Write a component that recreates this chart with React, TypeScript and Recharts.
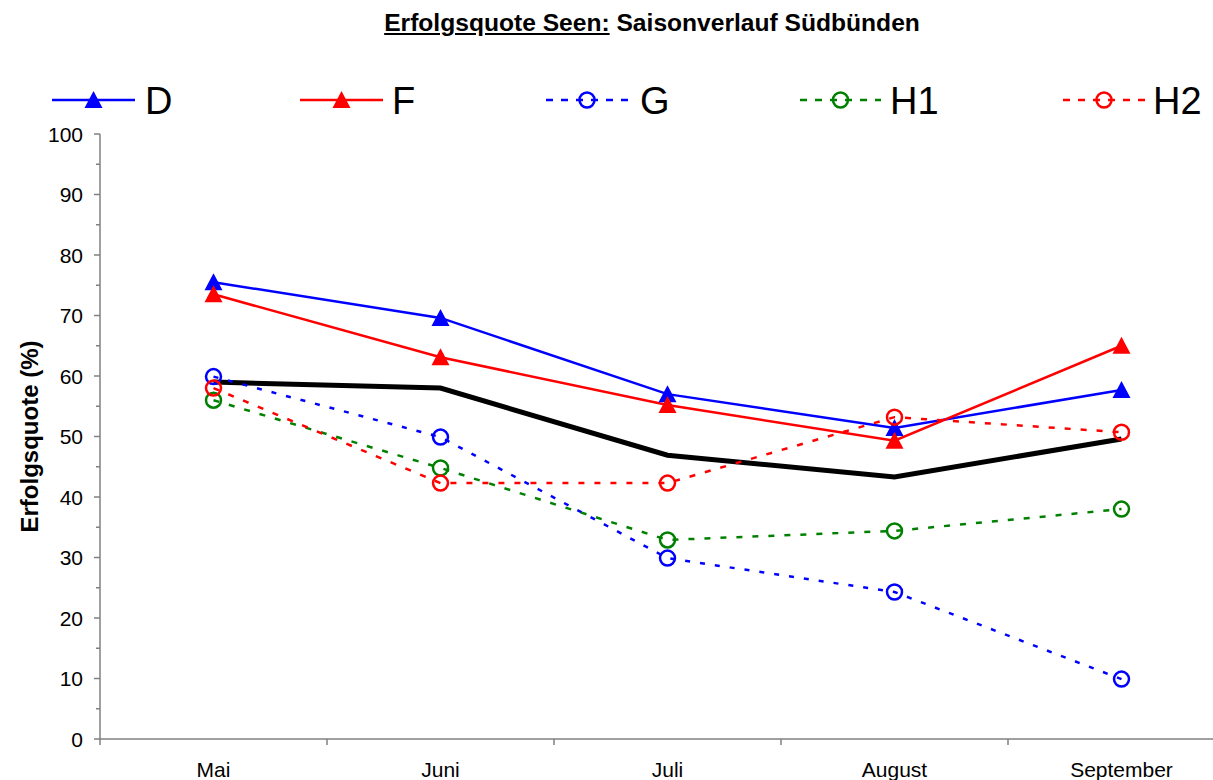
import React from 'react';
import { LineChart, Line, XAxis, YAxis, Legend, Label } from 'recharts';

const months = ['Mai', 'Juni', 'Juli', 'August', 'September'];
const dValues = [75.5, 69.6, 57.0, 51.4, 57.7];
const fValues = [73.5, 63.1, 55.2, 49.3, 65.0];
const gValues = [59.9, 49.9, 29.9, 24.3, 9.9];
const h1Values = [56.0, 44.8, 32.9, 34.4, 38.0];
const h2Values = [58.0, 42.3, 42.3, 53.2, 50.7];
const avgValues = [59.0, 58.0, 46.9, 43.3, 49.6];
const yTicks = [0, 5, 10, 15, 20, 25, 30, 35, 40, 45, 50, 55, 60, 65, 70, 75, 80, 85, 90, 95, 100];
const xTicks = [-0.5, 0, 0.5, 1, 1.5, 2, 2.5, 3, 3.5, 4, 4.5];

const data = months.map((m, i) => ({
  i,
  month: m,
  D: dValues[i],
  F: fValues[i],
  G: gValues[i],
  H1: h1Values[i],
  H2: h2Values[i],
  AVG: avgValues[i],
}));

type Series = { key: string; color: string; dash?: string; marker: 'tri' | 'circle' };
const series: Series[] = [
  { key: 'D', color: '#0000FF', marker: 'tri' },
  { key: 'F', color: '#FF0000', marker: 'tri' },
  { key: 'G', color: '#0000FF', dash: '5 10', marker: 'circle' },
  { key: 'H1', color: '#008000', dash: '6 10', marker: 'circle' },
  { key: 'H2', color: '#FF0000', dash: '6 10', marker: 'circle' },
];

// legend layout: line start, line length, text offset
const legendLayout: Record<string, { x: number; len: number; tx: number; dash?: string }> = {
  D: { x: 52, len: 83, tx: 93 },
  F: { x: 300, len: 83, tx: 92 },
  G: { x: 546, len: 82, tx: 94, dash: '7 8' },
  H1: { x: 800, len: 81, tx: 90, dash: '7 8' },
  H2: { x: 1063, len: 82, tx: 90, dash: '7 8' },
};

const FONT = '"Liberation Sans", Arial, sans-serif';
const AXIS = '#808080';

const Marker = ({ cx, cy, color, kind }: { cx: number; cy: number; color: string; kind: string }) => {
  if (kind === 'tri') {
    return <path d={`M${cx},${cy - 9} L${cx + 9},${cy + 8} L${cx - 9},${cy + 8} Z`} fill={color} stroke="none" />;
  }
  return <circle cx={cx} cy={cy} r={7.5} fill="#fff" fillOpacity={0} stroke={color} strokeWidth={2.5} />;
};

const makeDot = (s: Series) => (props: any) => {
  const { cx, cy, index } = props;
  if (cx == null || cy == null) return <g key={`${s.key}-${index}`} />;
  return (
    <g key={`${s.key}-${index}`}>
      <Marker cx={cx} cy={cy} color={s.color} kind={s.marker} />
    </g>
  );
};

const YTick = (props: any) => {
  const { x, y, payload } = props;
  const v = payload.value as number;
  const major = v % 10 === 0;
  return (
    <g>
      <line x1={x - (major ? 6 : 4)} x2={x} y1={y} y2={y} stroke={AXIS} strokeWidth={1.5} />
      {major && (
        <text x={x - 17} y={y} dy="0.36em" textAnchor="end" fontFamily={FONT} fontSize={21} fill="#000">
          {v}
        </text>
      )}
    </g>
  );
};

const XTick = (props: any) => {
  const { x, y, payload } = props;
  const v = payload.value as number;
  if (!Number.isInteger(v)) {
    return <line x1={x} x2={x} y1={y} y2={y + 6} stroke={AXIS} strokeWidth={1.5} />;
  }
  return (
    <text x={x} y={y + 38} textAnchor="middle" fontFamily={FONT} fontSize={21} fill="#000">
      {months[v]}
    </text>
  );
};

const LegendContent = () => (
  <svg width={1213} height={130} style={{ display: 'block' }}>
    {series.map((s) => {
      const l = legendLayout[s.key];
      const y = 100;
      return (
        <g key={s.key}>
          <line x1={l.x} x2={l.x + l.len} y1={y} y2={y} stroke={s.color} strokeWidth={2.5} strokeDasharray={l.dash} />
          <Marker cx={l.x + l.len / 2} cy={y} color={s.color} kind={s.marker} />
          <text x={l.x + l.tx} y={114} fontFamily={FONT} fontSize={38} fill="#000">
            {s.key}
          </text>
        </g>
      );
    })}
  </svg>
);

const YLabel = (props: any) => {
  const vb = props.viewBox || { x: 0, y: 134, width: 100, height: 605 };
  const cx = 38;
  const cy = vb.y + vb.height / 2;
  return (
    <text
      x={cx}
      y={cy}
      transform={`rotate(-90, ${cx}, ${cy})`}
      textAnchor="middle"
      fontFamily={FONT}
      fontWeight="bold"
      fontSize={24}
      fill="#000"
    >
      Erfolgsquote (%)
    </text>
  );
};

export default function App() {
  return (
    <div style={{ position: 'absolute', left: 0, top: 0, width: 1213, height: 780, overflow: 'hidden', background: '#fff' }}>
      <div
        style={{
          position: 'absolute',
          left: 652,
          top: 11,
          transform: 'translateX(-50%)',
          whiteSpace: 'nowrap',
          fontFamily: FONT,
          fontWeight: 'bold',
          fontSize: 24.6,
          lineHeight: '24px',
          color: '#000',
          zIndex: 2,
        }}
      >
        <span style={{ textDecoration: 'underline' }}>Erfolgsquote Seen:</span> Saisonverlauf Südbünden
      </div>
      <LineChart width={1240} height={780} data={data} margin={{ top: 134, right: 5, bottom: 0, left: 0 }}>
        <XAxis
          dataKey="i"
          type="number"
          domain={[-0.5, 4.5]}
          ticks={xTicks}
          interval={0}
          allowDecimals
          height={41}
          tickSize={0}
          tickMargin={0}
          tickLine={false}
          axisLine={{ stroke: AXIS, strokeWidth: 1.5 }}
          tick={<XTick />}
        />
        <YAxis
          type="number"
          domain={[0, 100]}
          ticks={yTicks}
          interval={0}
          width={100}
          tickSize={0}
          tickMargin={0}
          tickLine={false}
          axisLine={{ stroke: AXIS, strokeWidth: 1.5 }}
          tick={<YTick />}
        >
          <Label content={<YLabel />} />
        </YAxis>
        <Legend
          layout="horizontal"
          verticalAlign="middle"
          align="center"
          wrapperStyle={{ top: 0, left: 0, width: 1213, height: 130 }}
          content={<LegendContent />}
        />
        <Line
          dataKey="AVG"
          stroke="#000"
          strokeWidth={5}
          dot={false}
          activeDot={false}
          isAnimationActive={false}
          legendType="none"
        />
        {series.map((s) => (
          <Line
            key={s.key}
            dataKey={s.key}
            stroke={s.color}
            strokeWidth={2.5}
            strokeDasharray={s.dash}
            dot={makeDot(s)}
            activeDot={false}
            isAnimationActive={false}
          />
        ))}
      </LineChart>
    </div>
  );
}
